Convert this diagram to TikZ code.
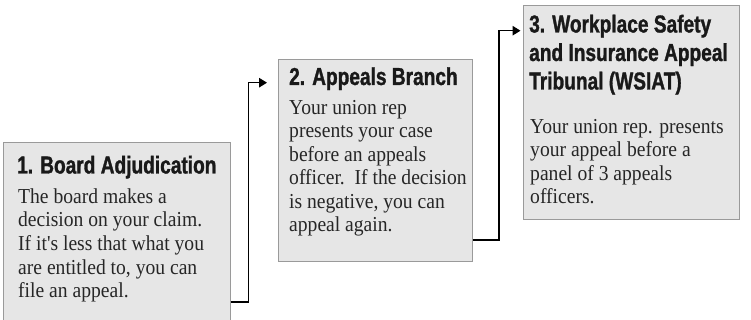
\documentclass[tikz,border=0pt]{standalone}
\usepackage{fontspec}
\usetikzlibrary{arrows.meta}
\newfontfamily\headfont{Liberation Sans}[FakeStretch=0.78, BoldFeatures={FakeBold=1.2}]
\newfontfamily\bodyfont{Liberation Serif}[FakeStretch=0.92]
\definecolor{boxfill}{HTML}{E6E6E6}
\definecolor{boxline}{HTML}{9A9A9A}
\newcommand\linestack[1]{\vtop{\halign{##\hfil\cr#1\crcr}}}
\tikzset{
  stagebox/.style={draw=boxline, fill=boxfill, line width=1pt, inner sep=0pt},
  headtext/.style={anchor=base west, inner sep=0pt, text=black!90,
    font=\headfont\bfseries\fontsize{24.5}{28.5}\selectfont},
  bodytext/.style={anchor=base west, inner sep=0pt, text=black!85,
    font=\bodyfont\fontsize{21.3}{23.5}\selectfont},
  conn/.style={line width=1.4pt, -{Triangle[length=8pt,width=9.5pt]}},
}
\begin{document}
\begin{tikzpicture}[x=1pt,y=-1pt]
\useasboundingbox (0,0) rectangle (751,320);
\clip (0,0) rectangle (751,320);
% boxes
\node[stagebox, minimum width=226.5pt, minimum height=184pt, anchor=north west] (b1) at (3,142.5) {};
\node[stagebox, minimum width=194.5pt, minimum height=202pt, anchor=north west] (b2) at (277.5,59) {};
\node[stagebox, minimum width=216pt, minimum height=214pt, anchor=north west] (b3) at (523,5) {};
% texts
\node[headtext] (h1) at (17,173.5) {\linestack{1. Board Adjudication}};
\node[bodytext] (t1) at (18,203.5) {\linestack{The board makes a\cr decision on your claim.\cr If it{\char"0027}s less that what you\cr are entitled to, you can\cr file an appeal.}};
\node[headtext] (h2) at (289,85) {\linestack{2. Appeals Branch}};
\node[bodytext] (t2) at (289,114.5) {\linestack{Your union rep\cr presents your case\cr before an appeals\cr officer.\ \ If the decision\cr is negative, you can\cr appeal again.}};
\node[headtext] (h3) at (529,32.5) {\linestack{3. Workplace Safety\cr and Insurance Appeal\cr Tribunal (WSIAT)}};
\node[bodytext] (t3) at (530,133.5) {\linestack{Your union rep. presents\cr your appeal before a\cr panel of 3 appeals\cr officers.}};
% connectors
\coordinate (k1) at (248.7,302);
\coordinate (k2) at (499,240);
\draw[conn] (b1.east |- k1) -- (k1) |- ([xshift=-10.5pt]b2.west |- 0,82.7);
\draw[conn] (b2.east |- k2) -- (k2) |- ([xshift=-2.5pt]b3.west |- 0,30.7);
\end{tikzpicture}
\end{document}
